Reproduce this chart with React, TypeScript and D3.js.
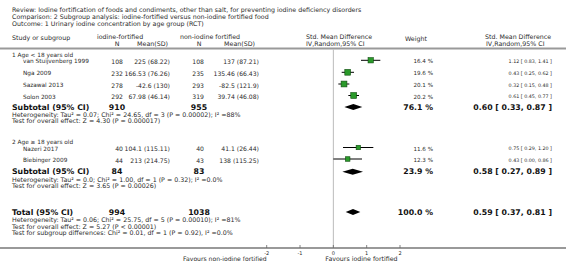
import React from "react";
import * as d3 from "d3";

const titleLines = [
  "Review:  Iodine fortification of foods and condiments, other than salt, for preventing iodine deficiency disorders",
  "Comparison:  2 Subgroup analysis: iodine-fortified versus non-iodine fortified food",
  "Outcome:  1 Urinary iodine concentration by age group (RCT)",
];

const groupNames = ["1 Age < 18 years old", "2 Age \u2265 18 years old"];
const studyNames = ["van Stuijvenberg 1999", "Nga 2009", "Sazawal 2013", "Solon 2003", "Nazeri 2017", "Biebinger 2009"];
const expN = [108, 232, 278, 292, 40, 44];
const expMeanSD = ["225 (68.22)", "166.53 (76.26)", "-42.6 (130)", "67.98 (46.14)", "104.1 (115.11)", "213 (214.75)"];
const ctrlN = [108, 235, 293, 319, 40, 43];
const ctrlMeanSD = ["137 (87.21)", "135.46 (66.43)", "-82.5 (121.9)", "39.74 (46.08)", "41.1 (26.44)", "138 (115.25)"];
const weights = [16.4, 19.6, 20.1, 20.2, 11.6, 12.3];
const smd = [1.12, 0.43, 0.32, 0.61, 0.75, 0.43];
const lower = [0.83, 0.25, 0.15, 0.45, 0.29, 0.0];
const upper = [1.41, 0.62, 0.48, 0.77, 1.2, 0.86];

const subExpN = [910, 84];
const subCtrlN = [955, 83];
const subWeight = [76.1, 23.9];
const subSmd = [0.6, 0.58];
const subLower = [0.33, 0.27];
const subUpper = [0.87, 0.89];
const subHet = [
  "Heterogeneity: Tau\u00b2 = 0.07; Chi\u00b2 = 24.65, df = 3 (P = 0.00002); I\u00b2 =88%",
  "Heterogeneity: Tau\u00b2 = 0.0; Chi\u00b2 = 1.00, df = 1 (P = 0.32); I\u00b2 =0.0%",
];
const subTest = ["Test for overall effect: Z = 4.30 (P = 0.000017)", "Test for overall effect: Z = 3.65 (P = 0.00026)"];

const totalExpN = 994;
const totalCtrlN = 1038;
const totalWeight = 100.0;
const totalSmd = 0.59;
const totalLower = 0.37;
const totalUpper = 0.81;
const totalNotes = [
  "Heterogeneity: Tau\u00b2 = 0.06; Chi\u00b2 = 25.75, df = 5 (P = 0.00010); I\u00b2 =81%",
  "Test for overall effect: Z = 5.27 (P < 0.00001)",
  "Test for subgroup differences: Chi\u00b2 = 0.01, df = 1 (P = 0.92), I\u00b2 =0.0%",
];

const axisTicks = [-2, -1, 0, 1, 2];
const favourLeft = "Favours non-iodine fortified";
const favourRight = "Favours iodine fortified";

const W = 566;
const H = 272;
const FONT = "DejaVu Sans, Verdana, sans-serif";
const fsTitle = 6.3;
const fsHead = 6.3;
const fsNote = 6.3;
const fsGroup = 5.8;
const fsName = 5.8;
const fsData = 6.1;
const fsWeight = 5.6;
const fsCI = 4.8;
const fsB = 7.8;
const txt = "#2a2a2a";

const fmt2 = (v: number) => v.toFixed(2);
const ciStr = (m: number, l: number, u: number) => `${fmt2(m)} [ ${fmt2(l)}, ${fmt2(u)} ]`;

export default function App() {
  const x = d3.scaleLinear().domain([-2, 2]).range([266.7, 400]);
  const size = d3.scaleSqrt().domain([0, 20]).range([0, 5.8]);

  const studyY = [61.3, 73.3, 85, 96.5, 148.5, 160];
  const groupY = [54.5, 141.5];
  const subY = [107, 171.8];
  const subHetY = [114.3, 179];
  const subTestY = [120.8, 185.5];
  const totY = 212;
  const totNoteY = [219.5, 226, 232.5];
  const axisY = 248;

  const colLeft = 12;
  const colStudy = 23;
  const colEN = 123;
  const colEM = 170;
  const colENb = 117;
  const colCN = 204;
  const colCM = 259;
  const colCNb = 199;
  const colW = 433;
  const colCI = 552;

  const diamond = (m: number, l: number, u: number, y: number) =>
    `M${x(l)},${y} L${x(m)},${y - 3} L${x(u)},${y} L${x(m)},${y + 3} Z`;

  const T = (props: any) => (
    <text fontFamily={FONT} fontSize={fsNote} fill={txt} dominantBaseline="central" {...props} />
  );
  const B = (props: any) => (
    <text fontFamily={FONT} fontSize={fsB} fontWeight="bold" fill="#111" dominantBaseline="central" {...props} />
  );

  return (
    <svg width={W} height={H} style={{ position: "absolute", left: 0, top: 0, background: "#fff" }}>
      {titleLines.map((t, i) => (
        <T key={i} x={colLeft} y={9 + i * 7} fontSize={fsTitle}>{t}</T>
      ))}
      <T x={colLeft} y={37.5} fontSize={fsHead}>Study or subgroup</T>
      <T x={97} y={36.5} fontSize={fsHead}>iodine-fortified</T>
      <T x={colENb} y={43.3} fontSize={fsHead} textAnchor="middle">N</T>
      <T x={colEM - 2} y={43.3} fontSize={fsHead} textAnchor="end">Mean(SD)</T>
      <T x={180} y={36.5} fontSize={fsHead}>non-iodine fortified</T>
      <T x={colCNb} y={43.3} fontSize={fsHead} textAnchor="middle">N</T>
      <T x={colCM - 4} y={43.3} fontSize={fsHead} textAnchor="end">Mean(SD)</T>
      <T x={306} y={36.5} fontSize={fsHead}>Std. Mean Difference</T>
      <T x={306} y={43} fontSize={fsHead}>IV,Random,95% CI</T>
      <T x={405} y={38} fontSize={fsHead}>Weight</T>
      <T x={485} y={36.5} fontSize={fsHead}>Std. Mean Difference</T>
      <T x={486} y={43} fontSize={fsHead}>IV,Random,95% CI</T>
      <line x1={0} x2={W} y1={48.5} y2={48.5} stroke="#999" strokeWidth={2} />

      <line x1={x(0)} x2={x(0)} y1={49.5} y2={axisY} stroke="#bbb" strokeWidth={1} />

      {groupNames.map((g, i) => (
        <T key={g} x={colLeft} y={groupY[i]} fontSize={fsGroup}>{g}</T>
      ))}

      {studyNames.map((s, i) => {
        const y = studyY[i];
        const sz = size(weights[i]);
        return (
          <g key={s}>
            <T x={colStudy} y={y} fontSize={fsName}>{s}</T>
            <T x={colEN} y={y} textAnchor="end" fontSize={fsData}>{expN[i]}</T>
            <T x={colEM} y={y} textAnchor="end" fontSize={fsData}>{expMeanSD[i]}</T>
            <T x={colCN} y={y} textAnchor="end" fontSize={fsData}>{ctrlN[i]}</T>
            <T x={colCM} y={y} textAnchor="end" fontSize={fsData}>{ctrlMeanSD[i]}</T>
            <line x1={x(lower[i])} x2={x(upper[i])} y1={y - 1} y2={y - 1} stroke="#000" strokeWidth={1} />
            <rect x={x(smd[i]) - sz / 2} y={y - 1 - sz / 2} width={sz} height={sz} fill="#2a9a2a" stroke="#0b4a0b" strokeWidth={0.6} />
            <T x={colW} y={y} textAnchor="end" fontSize={fsWeight}>{`${weights[i].toFixed(1)} %`}</T>
            <T x={colCI} y={y} textAnchor="end" fontSize={fsCI}>{ciStr(smd[i], lower[i], upper[i])}</T>
          </g>
        );
      })}

      {subExpN.map((n, i) => (
        <g key={"sub" + i}>
          <B x={colLeft} y={subY[i]}>Subtotal (95% CI)</B>
          <B x={colENb} y={subY[i]} textAnchor="middle">{n}</B>
          <B x={colCNb} y={subY[i]} textAnchor="middle">{subCtrlN[i]}</B>
          <path d={diamond(subSmd[i], subLower[i], subUpper[i], subY[i])} fill="#000" />
          <B x={colW} y={subY[i]} textAnchor="end">{`${subWeight[i].toFixed(1)} %`}</B>
          <B x={colCI} y={subY[i]} textAnchor="end">{ciStr(subSmd[i], subLower[i], subUpper[i])}</B>
          <T x={colLeft} y={subHetY[i]}>{subHet[i]}</T>
          <T x={colLeft} y={subTestY[i]}>{subTest[i]}</T>
        </g>
      ))}

      <B x={colLeft} y={totY}>Total (95% CI)</B>
      <B x={colENb} y={totY} textAnchor="middle">{totalExpN}</B>
      <B x={colCNb} y={totY} textAnchor="middle">{totalCtrlN}</B>
      <path d={diamond(totalSmd, totalLower, totalUpper, totY)} fill="#000" />
      <B x={colW} y={totY} textAnchor="end">{`${totalWeight.toFixed(1)} %`}</B>
      <B x={colCI} y={totY} textAnchor="end">{ciStr(totalSmd, totalLower, totalUpper)}</B>
      {totalNotes.map((t, i) => (
        <T key={t} x={colLeft} y={totNoteY[i]}>{t}</T>
      ))}

      <line x1={0} x2={W} y1={axisY} y2={axisY} stroke="#999" strokeWidth={2} />
      {axisTicks.map((t) => (
        <g key={t}>
          <line x1={x(t)} x2={x(t)} y1={axisY - 3} y2={axisY} stroke="#666" strokeWidth={0.8} />
          <T x={x(t)} y={axisY + 5} textAnchor="middle" fontSize={5}>{t}</T>
        </g>
      ))}
      <T x={x(-2)} y={258.5} textAnchor="end" fontSize={6.1}>{favourLeft}</T>
      <T x={x(0) - 8} y={258.5} fontSize={6.3}>{favourRight}</T>
    </svg>
  );
}
